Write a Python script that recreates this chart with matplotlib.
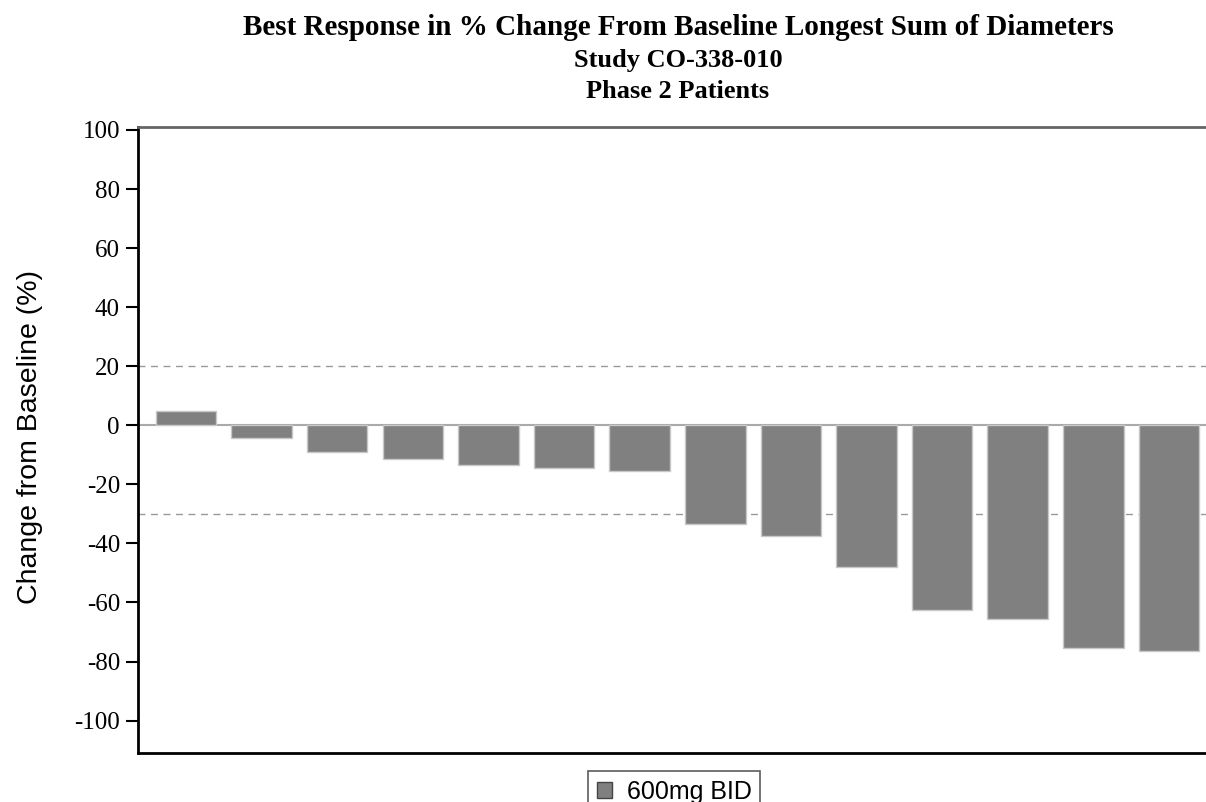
"""
Waterfall plot: best response in % change from baseline.
"""

import matplotlib
matplotlib.use("Agg")
import matplotlib.pyplot as plt
from matplotlib.patches import Patch

# data (one bar per patient, sorted)
patients = list(range(14))
best_change = [4.7, -4.4, -9.1, -11.5, -13.5, -14.5, -15.5,
               -33.5, -37.5, -48.0, -62.5, -65.5, -75.5, -76.5]
y_ticks = [100, 80, 60, 40, 20, 0, -20, -40, -60, -80, -100]
ref_lines = [20, -30]
series_label = "600mg BID"

title_lines = [
    "Best Response in % Change From Baseline Longest Sum of Diameters",
    "Study CO-338-010",
    "Phase 2 Patients",
]

serif = "Liberation Serif"
sans = "Liberation Sans"

fig = plt.figure(figsize=(12.06, 8.02), dpi=100)
ax = fig.add_axes([0.1144, 0.061, 0.8856, 0.7806])

ax.bar(patients, best_change, width=0.8, color="#808080",
       edgecolor="#c8c8c8", linewidth=1.0, zorder=3)

ax.axhline(0, color="#aaaaaa", lw=1.5, zorder=2)
for y in ref_lines:
    ax.axhline(y, color="#999999", lw=1.0, ls=(0, (5, 4)), zorder=1)

ax.set_xlim(-0.635, 13.49)
ax.set_ylim(-111, 101)
ax.set_yticks(y_ticks)
ax.set_yticklabels([str(t) for t in y_ticks], fontfamily=serif, fontsize=18)
ax.set_xticks([])
ax.tick_params(axis="y", direction="out", length=9, width=1.5, pad=4)

ax.spines["right"].set_visible(False)
ax.spines["left"].set_linewidth(2)
ax.spines["bottom"].set_linewidth(2)
ax.spines["top"].set_linewidth(2)
ax.spines["top"].set_color("#666666")

ax.set_ylabel("Change from Baseline (%)", fontfamily=sans, fontsize=20.5)
ax.yaxis.set_label_coords(-0.089, 0.505)

# three-line title, centred over the plot area
fig.text(0.5622, 0.9564, title_lines[0], ha="center", va="baseline",
         fontfamily=serif, fontweight="bold", fontsize=21)
fig.text(0.5622, 0.9165, title_lines[1], ha="center", va="baseline",
         fontfamily=serif, fontweight="bold", fontsize=19)
fig.text(0.5622, 0.8778, title_lines[2], ha="center", va="baseline",
         fontfamily=serif, fontweight="bold", fontsize=19)

handle = Patch(facecolor="#808080", edgecolor="#444444", label=series_label)
leg = fig.legend(handles=[handle], loc="upper left", bbox_to_anchor=(0.4876, 0.0387),
                 frameon=True, fancybox=False, prop={"family": sans, "size": 18},
                 handlelength=0.6, handleheight=0.6, handletextpad=0.6,
                 borderpad=0.35, borderaxespad=0)
leg.get_frame().set_edgecolor("#333333")
leg.get_frame().set_linewidth(1.2)

fig.savefig("out.png", dpi=100)
